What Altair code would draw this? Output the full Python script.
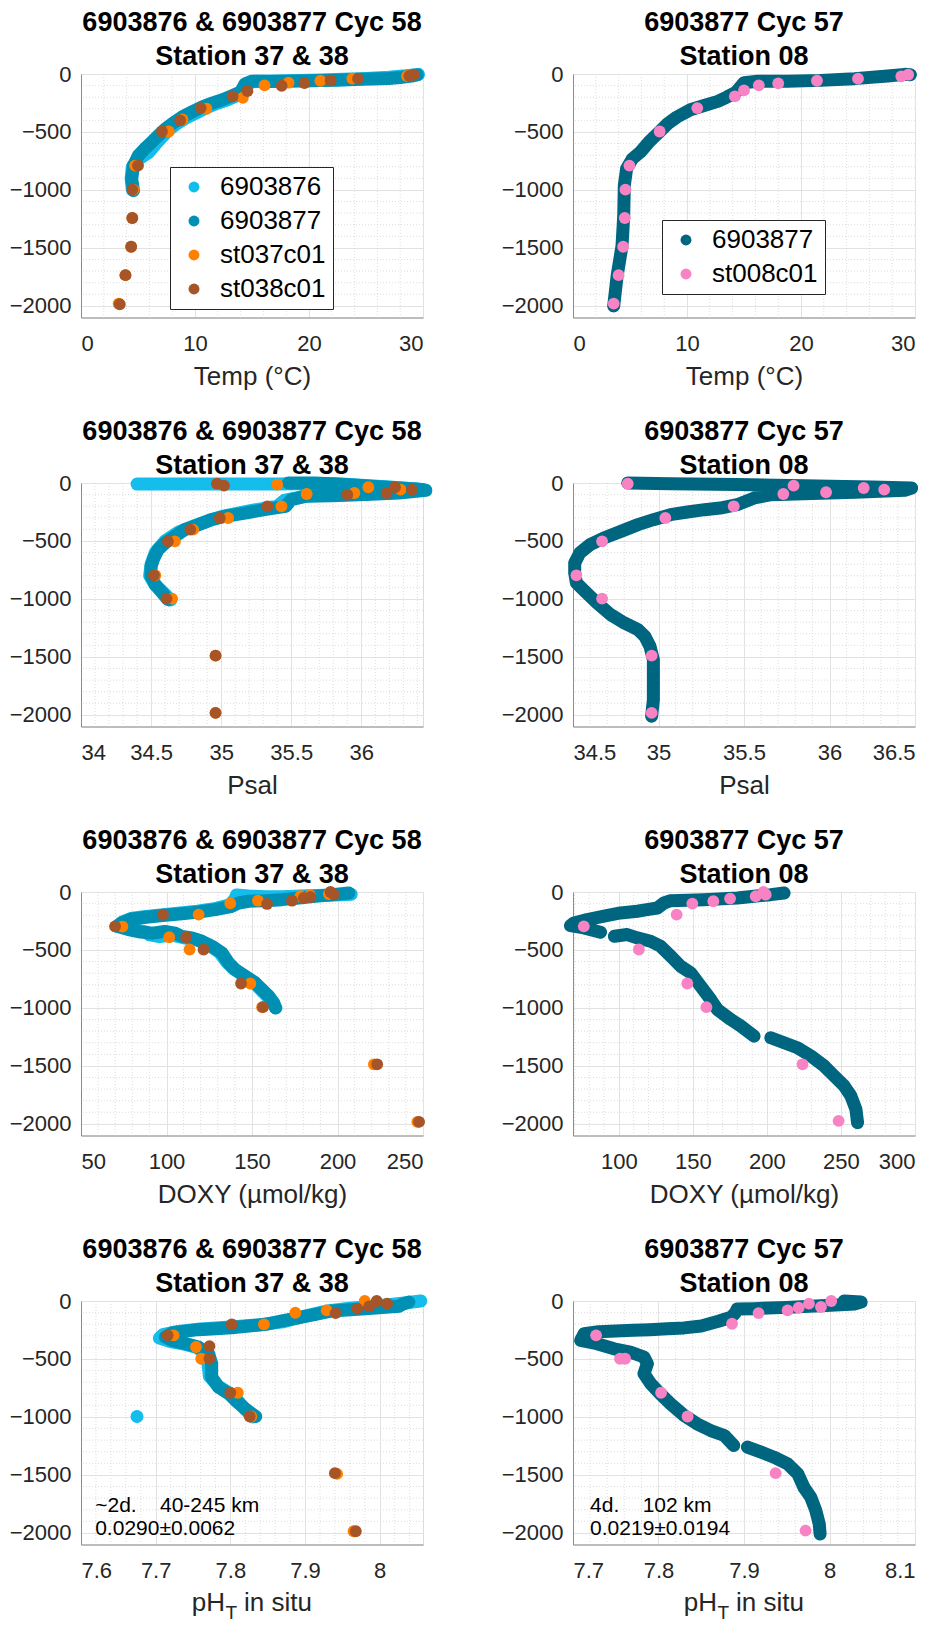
import altair as alt
import pandas as pd

FONT = "Liberation Sans"
TXT = "#262626"
C76 = "#14bdeb"
C77 = "#0090b3"
C37 = "#ff8000"
C38 = "#a65529"
C77R = "#006680"
C08 = "#f783c4"

TITLE_L = ["6903876 & 6903877 Cyc 58", "Station 37 & 38"]
TITLE_R = ["6903877 Cyc 57", "Station 08"]
NAMES_L = ["6903876", "6903877", "st037c01", "st038c01"]
NAMES_R = ["6903877", "st008c01"]

Y_DOMAIN = [-2100, 0]
Y_TICKS = [0, -500, -1000, -1500, -2000]
Y_MINOR = [-100, -200, -300, -400, -600, -700, -800, -900, -1100, -1200, -1300,
           -1400, -1600, -1700, -1800, -1900]

# ---------------- Temperature ----------------
TEMP_TICKS = [0, 10, 20, 30]
TEMP_MINOR = [2, 4, 6, 8, 12, 14, 16, 18, 22, 24, 26, 28]

temp58_f76_x = [4.5, 4.4, 4.5, 5.1, 5.9, 6.5, 7.1, 7.7, 8.4, 9.2, 10.1, 11.0, 11.9, 12.8, 13.6,
                14.2, 14.5, 15.2, 17.0, 19.0, 21.0, 23.0, 25.0, 27.0, 28.5, 29.6]
temp58_f76_y = [-1000, -900, -800, -730, -680, -610, -545, -480, -430, -380, -335, -290, -255,
                -225, -190, -150, -90, -62, -60, -55, -52, -45, -38, -28, -15, -3]
temp58_f77_x = [4.6, 4.45, 4.6, 5.04, 5.6, 6.2, 6.8, 7.4, 8.1, 8.85, 9.7, 10.6, 11.5, 12.4, 13.2,
                14.0, 14.4, 15.0, 16.5, 18.0, 19.5, 21.0, 22.5, 24.0, 25.5, 27.0, 28.0, 29.0, 29.5]
temp58_f77_y = [-1006, -905, -790, -703, -645, -588, -530, -473, -421, -372, -329, -285, -251,
                -222, -190, -156, -84, -62, -65, -62, -60, -57, -53, -48, -44, -38, -30, -18, -8]
temp_st37_x = [28.6, 23.8, 21.0, 18.2, 16.1, 14.2, 11.0, 8.9, 7.7, 4.75, 4.6, 4.5, 4.4, 3.9, 3.3]
temp_st37_y = [-17, -40, -58, -75, -98, -205, -300, -392, -496, -790, -997, -1242, -1490, -1735, -1980]
temp_st38_x = [29.2, 28.8, 24.3, 21.9, 19.6, 17.6, 14.6, 13.3, 10.5, 8.7, 7.1, 5.0, 4.5, 4.5, 4.4,
               3.9, 3.4]
temp_st38_y = [-6, -17, -40, -55, -78, -101, -147, -193, -294, -400, -496, -790, -997, -1242,
               -1490, -1735, -1986]

temp57_f77_x = [3.57, 3.87, 4.3, 4.45, 4.5, 4.7, 5.2, 5.9, 6.65, 7.4, 8.3, 9.1, 10.3, 11.5, 12.7,
                13.5, 14.3, 15.0, 16.2, 18.8, 21.7, 24.7, 27.6, 29.1, 29.6]
temp57_f77_y = [-2000, -1741, -1481, -1222, -962, -818, -732, -674, -588, -516, -429, -372, -308,
                -271, -236, -199, -156, -75, -63, -63, -55, -40, -17, -3, -6]
temp_st08_x = [29.4, 28.8, 25.0, 21.4, 18.0, 16.3, 15.0, 14.2, 10.9, 7.6, 4.95, 4.6, 4.54, 4.4, 4.0, 3.57]
temp_st08_y = [-6, -20, -40, -58, -81, -98, -141, -193, -294, -496, -790, -997, -1242, -1490, -1735, -1980]

# ---------------- Salinity ----------------
PSAL_L_TICKS = [34, 34.5, 35, 35.5, 36]
PSAL_L_MINOR = [34.1, 34.2, 34.3, 34.4, 34.6, 34.7, 34.8, 34.9, 35.1, 35.2, 35.3, 35.4, 35.6,
                35.7, 35.8, 35.9, 36.1, 36.2, 36.3, 36.4]
PSAL_R_TICKS = [34.5, 35, 35.5, 36, 36.5]
PSAL_R_MINOR = [34.6, 34.7, 34.8, 34.9, 35.1, 35.2, 35.3, 35.4, 35.6, 35.7, 35.8, 35.9, 36.1,
                36.2, 36.3, 36.4]

psal58_f76_x = [34.40, 34.50, 34.60, 34.70, 34.80, 34.90, 35.00, 35.10, 35.20, 35.30, 35.40, 35.60,
                35.80, 36.00, 36.20, 36.44, 36.20, 35.90, 35.60, 35.45, 35.40, 35.20, 35.00, 34.85,
                34.70, 34.60, 34.53, 34.50, 34.49, 34.53, 34.60, 34.64]
psal58_f76_y = [-9, -9, -9, -9, -9, -9, -9, -9, -9, -9, -9, -5, -5, -20, -35, -55, -85, -100, -112,
                -150, -200, -240, -290, -350, -420, -500, -600, -700, -800, -880, -960, -1010]
psal58_f77_x = [35.48, 35.67, 35.91, 36.15, 36.39, 36.46, 36.27, 36.03, 35.79, 35.60, 35.50, 35.46,
                35.31, 35.17, 35.03, 34.93, 34.84, 34.74, 34.67, 34.60, 34.55, 34.52, 34.50, 34.50,
                34.53, 34.58, 34.62]
psal58_f77_y = [0, 0, -14, -34, -52, -63, -86, -100, -109, -115, -144, -201, -230, -259, -287, -316,
                -359, -402, -460, -517, -575, -647, -718, -805, -876, -948, -1006]
psal_st37_x = [35.40, 36.05, 36.28, 35.95, 35.61, 35.43, 35.05, 34.80, 34.67, 34.53, 34.65, 34.96, 34.96]
psal_st37_y = [-14, -37, -57, -86, -95, -201, -302, -402, -503, -796, -997, -1489, -1983]
psal_st38_x = [34.97, 35.02, 36.24, 36.36, 36.18, 35.90, 35.33, 34.99, 34.78, 34.62, 34.52, 34.61,
               34.96, 34.96]
psal_st38_y = [-6, -23, -37, -57, -86, -101, -201, -302, -402, -503, -796, -997, -1489, -1983]

psal57_f77_x = [34.82, 35.07, 35.46, 35.85, 36.25, 36.48, 36.44, 36.15, 35.85, 35.66, 35.56, 35.46,
                35.36, 35.27, 35.17, 35.07, 34.97, 34.88, 34.78, 34.68, 34.60, 34.54, 34.51, 34.51,
                34.52, 34.57, 34.64, 34.72, 34.80, 34.88, 34.92, 34.95, 34.97, 34.97, 34.97, 34.96]
psal57_f77_y = [0, -6, -14, -23, -34, -43, -63, -80, -92, -101, -129, -187, -216, -230, -250, -273,
                -316, -359, -417, -474, -532, -603, -690, -776, -862, -934, -1034, -1135, -1207,
                -1264, -1322, -1408, -1523, -1724, -1868, -2011]
psal_st08_x = [34.82, 35.79, 36.20, 36.32, 35.98, 35.73, 35.44, 35.04, 34.67, 34.52, 34.67, 34.96, 34.96]
psal_st08_y = [-6, -23, -43, -57, -80, -95, -201, -302, -503, -796, -997, -1489, -1983]

# ---------------- Oxygen ----------------
DOXY_L_TICKS = [50, 100, 150, 200, 250]
DOXY_L_MINOR = [60, 70, 80, 90, 110, 120, 130, 140, 160, 170, 180, 190, 210, 220, 230, 240]
DOXY_R_TICKS = [100, 150, 200, 250, 300]
DOXY_R_MINOR = [70, 80, 90, 110, 120, 130, 140, 160, 170, 180, 190, 210, 220, 230, 240, 260, 270,
                280, 290]

doxy58_f76_x = [208, 198, 188, 178, 168, 158, 148, 141, 140, 137, 128, 118, 108, 98, 88, 80, 74, 72,
                80, 88, 90, 96, 103, 110, 117, 125, 131, 135, 139, 145, 151, 155, 159, 162, 164]
doxy58_f76_y = [-20, -25, -30, -35, -40, -40, -35, -25, -60, -110, -145, -165, -180, -195, -210,
                -225, -260, -290, -318, -345, -370, -385, -370, -395, -410, -460, -520, -600, -660,
                -720, -780, -840, -900, -950, -1000]
doxy58_f77_x = [206.6, 196.9, 187.1, 177.3, 167.6, 157.8, 148.0, 142.2, 138.3, 128.5, 118.8, 109.0,
                99.2, 89.5, 79.7, 73.8, 70.9, 77.7, 85.0, 92.0, 99.0, 105.0, 109.0, 114.8, 120.7,
                126.6, 132.4, 136.3, 140.2, 146.0, 151.9, 155.9, 159.8, 162.7, 163.7]
doxy58_f77_y = [-9, -23, -37, -52, -66, -75, -80, -95, -123, -152, -172, -187, -201, -215, -232,
                -267, -296, -324, -345, -355, -340, -355, -382, -396, -425, -468, -525, -611, -669,
                -726, -783, -841, -898, -956, -999]
doxy_st37_x = [195.0, 184.0, 178.3, 153.5, 137.3, 118.8, 74.2, 101.6, 113.5, 149.0, 155.9, 221.3, 246.7]
doxy_st37_y = [-17, -30, -37, -75, -98, -195, -298, -390, -496, -789, -993, -1486, -1983]
doxy_st38_x = [195.9, 197.9, 184.2, 180.3, 173.4, 158.8, 97.9, 69.9, 111.5, 121.7, 143.6, 156.4,
               223.2, 247.7]
doxy_st38_y = [0, -23, -43, -52, -75, -103, -195, -296, -390, -496, -789, -993, -1486, -1983]

doxy57_f77_x = [211.6, 202.6, 191.3, 180.0, 157.5, 135.0, 130.4, 126.0, 119.0, 112.4, 101.1, 89.9,
                78.6, 69.6, 67.3, 76.3, 87.6,
                97.0, 105.6, 112.4, 121.4, 128.2, 135.0, 141.7, 148.5, 155.2, 162.0, 166.5, 175.5,
                182.3, 191.3,
                202.6, 211.6, 220.6, 229.7, 238.7, 245.4, 252.2, 256.7, 260.1, 261.2]
doxy57_f77_y = [-9, -23, -37, -52, -66, -75, -95, -138, -152, -166, -181, -209, -238, -267, -290,
                -310, -347,
                -382, -367, -396, -425, -468, -554, -640, -697, -812, -927, -1013, -1099, -1156,
                -1243,
                -1257, -1300, -1343, -1415, -1501, -1587, -1673, -1759, -1874, -1989]
doxy57_f77_seg = [0] * 17 + [1] * 14 + [2] * 10
doxy_st08_x = [197.6, 199.2, 192.4, 175.1, 163.8, 149.6, 139.0, 76.3, 113.5, 146.2, 159.1, 224.0, 248.4]
doxy_st08_y = [0, -23, -37, -57, -80, -100, -195, -296, -496, -789, -993, -1486, -1974]

# ---------------- pH ----------------
PH_L_TICKS = [7.6, 7.7, 7.8, 7.9, 8.0]
PH_L_MINOR = [7.62, 7.64, 7.66, 7.68, 7.72, 7.74, 7.76, 7.78, 7.82, 7.84, 7.86, 7.88, 7.92, 7.94,
              7.96, 7.98, 8.02, 8.04]
PH_R_TICKS = [7.7, 7.8, 7.9, 8.0, 8.1]
PH_R_MINOR = [7.72, 7.74, 7.76, 7.78, 7.82, 7.84, 7.86, 7.88, 7.92, 7.94, 7.96, 7.98, 8.02, 8.04,
              8.06, 8.08]

ph58_f76_x = [8.055, 8.03, 8.00, 7.96, 7.93, 7.90, 7.87, 7.84, 7.80, 7.76, 7.73, 7.71, 7.705, 7.72,
              7.74, 7.755, 7.765, 7.77, 7.772, 7.785, 7.80, 7.81, 7.82, 7.83, 7.675]
ph58_f76_y = [0, -20, -40, -62, -85, -130, -180, -205, -225, -242, -262, -290, -320, -350, -375,
              -400, -450, -540, -650, -740, -800, -860, -935, -1000, -996]
ph58_f76_seg = [0] * 24 + [1]
ph58_f77_x = [8.039, 8.030, 8.026, 7.981, 7.936, 7.914, 7.892, 7.869, 7.847, 7.825, 7.802, 7.780,
              7.757, 7.740, 7.722, 7.713, 7.722, 7.740, 7.757, 7.771, 7.775, 7.775, 7.784, 7.798,
              7.807, 7.820, 7.834]
ph58_f77_y = [-9, -30, -46, -66, -86, -115, -144, -172, -201, -215, -230, -240, -247, -260, -276,
              -311, -340, -368, -397, -455, -541, -656, -742, -800, -858, -930, -996]
ph_st37_x = [7.980, 7.929, 7.887, 7.845, 7.724, 7.754, 7.761, 7.810, 7.828, 7.943, 7.965]
ph_st37_y = [0, -81, -101, -201, -296, -397, -498, -791, -996, -1491, -1986]
ph_st38_x = [7.996, 8.010, 7.986, 7.970, 7.941, 7.802, 7.716, 7.772, 7.772, 7.800, 7.826, 7.940, 7.968]
ph_st38_y = [0, -23, -46, -66, -104, -201, -296, -389, -498, -791, -996, -1485, -1986]

ph57_f77_x = [8.017, 8.037, 8.030, 7.990, 7.950, 7.912, 7.892, 7.890, 7.885, 7.870, 7.850, 7.830,
              7.810, 7.790, 7.770, 7.750, 7.730, 7.713, 7.709, 7.728, 7.748, 7.767, 7.783, 7.787,
              7.783, 7.791, 7.802, 7.814, 7.830, 7.845, 7.861, 7.877, 7.888,
              7.904, 7.920, 7.935, 7.951, 7.963, 7.970, 7.978, 7.984, 7.988, 7.989]
ph57_f77_y = [0, -9, -25, -40, -55, -66, -70, -100, -140, -175, -215, -232, -240, -247, -252, -258,
              -265, -282, -340, -368, -412, -440, -483, -541, -627, -714, -800, -886, -987, -1059,
              -1117, -1160, -1246,
              -1260, -1304, -1347, -1404, -1491, -1606, -1692, -1807, -1922, -2009]
ph57_f77_seg = [0] * 33 + [1] * 10
ph_st08_x = [8.002, 7.976, 7.990, 7.964, 7.951, 7.917, 7.886, 7.727, 7.755, 7.761, 7.803, 7.834,
             7.937, 7.972]
ph_st08_y = [0, -23, -52, -58, -81, -104, -196, -296, -498, -498, -791, -996, -1485, -1980]

NOTE_L = ["~2d.\u00a0\u00a0\u00a0 40-245 km", "0.0290±0.0062"]
NOTE_L_X = [7.619, 7.619]
NOTE_R = ["4d.\u00a0\u00a0\u00a0 102 km", "0.0219±0.0194"]
NOTE_R_X = [7.720, 7.720]
NOTE_Y = [-1764, -1965]

W = 342
H = 243.5
PT = 140
LW = 13


def prof(xs, ys, name, segs=None):
    n = len(xs)
    return pd.DataFrame({"x": xs, "y": ys, "series": [name] * n, "i": list(range(n)),
                         "seg": segs if segs is not None else [0] * n})


LEG = dict(orient="none", title=None, labelFont=FONT, labelFontSize=26, labelColor="black",
           symbolType="circle", symbolSize=120, strokeColor="#262626", fillColor="white",
           padding=7, rowPadding=8, labelOffset=13, symbolOffset=4, symbolStrokeWidth=0,
           cornerRadius=0)


def panel(title, xdom, xticks, xminor, xtitle, floats, bottles, cdom, crange,
          legend=None, notes=None, ph=False):
    xaxis = alt.Axis(values=xticks, format=".2~f", title=xtitle)
    xenc = alt.X("x:Q", scale=alt.Scale(domain=xdom, nice=False, zero=False), axis=xaxis)
    yenc = alt.Y("y:Q", scale=alt.Scale(domain=Y_DOMAIN, nice=False, zero=False),
                 axis=alt.Axis(values=Y_TICKS, format="d", title=None))
    cenc = alt.Color("series:N", scale=alt.Scale(domain=cdom, range=crange), legend=legend)
    layers = [
        alt.Chart(pd.DataFrame({"x": xminor})).mark_rule(
            color="#d4d4d4", strokeDash=[1, 2], strokeWidth=0.8).encode(x=xenc),
        alt.Chart(pd.DataFrame({"y": Y_MINOR})).mark_rule(
            color="#d4d4d4", strokeDash=[1, 2], strokeWidth=0.8).encode(y=yenc),
    ]
    for df, col in floats:
        layers.append(alt.Chart(df).mark_line(
            color=col, strokeWidth=LW, strokeCap="round", strokeJoin="round").encode(
            x=xenc, y=yenc, order=alt.Order("i:Q"), detail="seg:N"))
        layers.append(alt.Chart(df).mark_circle(size=PT, opacity=1).encode(
            x=xenc, y=yenc, color=cenc))
    for df in bottles:
        layers.append(alt.Chart(df).mark_circle(size=PT, opacity=1).encode(
            x=xenc, y=yenc, color=cenc))
    if notes is not None:
        layers.append(alt.Chart(notes).mark_text(
            align="left", baseline="middle", fontSize=21, font=FONT, color="black").encode(
            x=xenc, y=yenc, text="t:N"))
    if ph:
        layers.append(alt.Chart(pd.DataFrame({"t": ["pH"]})).mark_text(
            align="right", baseline="alphabetic", fontSize=26, font=FONT, color=TXT).encode(
            text="t:N", x=alt.value(144), y=alt.value(310)))
        layers.append(alt.Chart(pd.DataFrame({"t": ["T"]})).mark_text(
            align="left", baseline="alphabetic", fontSize=19, font=FONT, color=TXT).encode(
            text="t:N", x=alt.value(144.5), y=alt.value(318)))
        layers.append(alt.Chart(pd.DataFrame({"t": ["in situ"]})).mark_text(
            align="left", baseline="alphabetic", fontSize=26, font=FONT, color=TXT).encode(
            text="t:N", x=alt.value(163), y=alt.value(310)))
    return alt.layer(*layers).properties(
        width=W, height=H,
        title=alt.TitleParams(text=title, fontSize=27, fontWeight="bold", font=FONT,
                              lineHeight=34, anchor="middle", offset=-8, color="black"))


p1 = panel(TITLE_L, [0, 30], TEMP_TICKS, TEMP_MINOR, "Temp (°C)",
           [(prof(temp58_f76_x, temp58_f76_y, "6903876"), C76),
            (prof(temp58_f77_x, temp58_f77_y, "6903877"), C77)],
           [prof(temp_st37_x, temp_st37_y, "st037c01"), prof(temp_st38_x, temp_st38_y, "st038c01")],
           NAMES_L, [C76, C77, C37, C38], legend=alt.Legend(legendX=89, legendY=93, **LEG))
p2 = panel(TITLE_R, [0, 30], TEMP_TICKS, TEMP_MINOR, "Temp (°C)",
           [(prof(temp57_f77_x, temp57_f77_y, "6903877"), C77R)],
           [prof(temp_st08_x, temp_st08_y, "st008c01")],
           NAMES_R, [C77R, C08], legend=alt.Legend(legendX=89, legendY=146, **LEG))
p3 = panel(TITLE_L, [34, 36.44], PSAL_L_TICKS, PSAL_L_MINOR, "Psal",
           [(prof(psal58_f76_x, psal58_f76_y, "6903876"), C76),
            (prof(psal58_f77_x, psal58_f77_y, "6903877"), C77)],
           [prof(psal_st37_x, psal_st37_y, "st037c01"), prof(psal_st38_x, psal_st38_y, "st038c01")],
           NAMES_L, [C76, C77, C37, C38])
p4 = panel(TITLE_R, [34.5, 36.5], PSAL_R_TICKS, PSAL_R_MINOR, "Psal",
           [(prof(psal57_f77_x, psal57_f77_y, "6903877"), C77R)],
           [prof(psal_st08_x, psal_st08_y, "st008c01")],
           NAMES_R, [C77R, C08])
p5 = panel(TITLE_L, [50, 250], DOXY_L_TICKS, DOXY_L_MINOR, "DOXY (µmol/kg)",
           [(prof(doxy58_f76_x, doxy58_f76_y, "6903876"), C76),
            (prof(doxy58_f77_x, doxy58_f77_y, "6903877"), C77)],
           [prof(doxy_st37_x, doxy_st37_y, "st037c01"), prof(doxy_st38_x, doxy_st38_y, "st038c01")],
           NAMES_L, [C76, C77, C37, C38])
p6 = panel(TITLE_R, [69, 300], DOXY_R_TICKS, DOXY_R_MINOR, "DOXY (µmol/kg)",
           [(prof(doxy57_f77_x, doxy57_f77_y, "6903877", doxy57_f77_seg), C77R)],
           [prof(doxy_st08_x, doxy_st08_y, "st008c01")],
           NAMES_R, [C77R, C08])
p7 = panel(TITLE_L, [7.6, 8.058], PH_L_TICKS, PH_L_MINOR, None,
           [(prof(ph58_f76_x, ph58_f76_y, "6903876", ph58_f76_seg), C76),
            (prof(ph58_f77_x, ph58_f77_y, "6903877"), C77)],
           [prof(ph_st37_x, ph_st37_y, "st037c01"), prof(ph_st38_x, ph_st38_y, "st038c01")],
           NAMES_L, [C76, C77, C37, C38],
           notes=pd.DataFrame({"x": NOTE_L_X, "y": NOTE_Y, "t": NOTE_L}), ph=True)
p8 = panel(TITLE_R, [7.7, 8.1], PH_R_TICKS, PH_R_MINOR, None,
           [(prof(ph57_f77_x, ph57_f77_y, "6903877", ph57_f77_seg), C77R)],
           [prof(ph_st08_x, ph_st08_y, "st008c01")],
           NAMES_R, [C77R, C08],
           notes=pd.DataFrame({"x": NOTE_R_X, "y": NOTE_Y, "t": NOTE_R}), ph=True)

chart = alt.concat(p1, p2, p3, p4, p5, p6, p7, p8, columns=2,
                   spacing={"row": 165, "column": 150}, bounds="flush").resolve_scale(
    x="independent", y="independent", color="independent").resolve_legend(
    color="independent").properties(padding={"left": 0, "top": 0, "right": 0, "bottom": 0}
).configure_view(stroke="#dcdcdc", strokeWidth=1).configure_axis(
    labelFont=FONT, labelFontSize=22, labelColor=TXT, titleFont=FONT, titleFontSize=26,
    titleFontWeight="normal", titleColor=TXT, grid=True, gridColor="#e2e2e2", gridWidth=1,
    domainColor="#8c8c8c", domainWidth=1, ticks=False, tickSize=0
).configure_axisX(
    labelBaseline="alphabetic", labelPadding=33, titleBaseline="alphabetic", titleY=67
).configure_axisY(labelPadding=10)

chart.save("out.html", embed_options={"renderer": "svg", "actions": False})
